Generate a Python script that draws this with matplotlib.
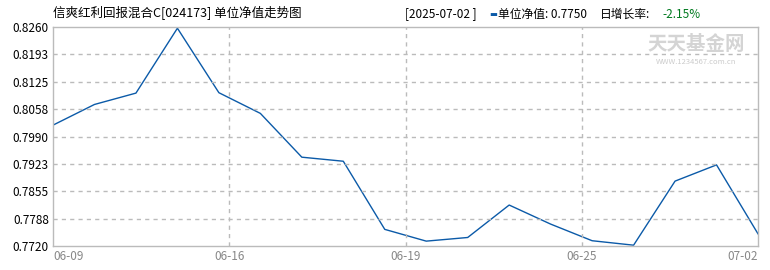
import matplotlib
matplotlib.use("Agg")
import matplotlib.pyplot as plt

plt.rcParams['font.family'] = ['Noto Sans CJK SC', 'DejaVu Sans']

# 交易日与单位净值
dates = ['06-09', '06-10', '06-11', '06-12', '06-13', '06-16', '06-17', '06-18',
         '06-19', '06-20', '06-23', '06-24', '06-25', '06-26', '06-27', '06-30',
         '07-01', '07-02']
nav = [0.8018, 0.8069, 0.8097, 0.8257, 0.8098, 0.8047, 0.7939, 0.7929,
       0.7761, 0.7732, 0.7741, 0.7821, 0.7774, 0.7733, 0.7722, 0.7880,
       0.7920, 0.7750]

x_ticks = [0, 4.25, 8.5, 12.75, 17]
x_labels = ['06-09', '06-16', '06-19', '06-25', '07-02']
y_min, y_max = 0.7720, 0.8260
y_ticks = [y_min + i * (y_max - y_min) / 8 for i in range(9)]

title = '信爽红利回报混合C[024173] 单位净值走势图'
last_date = '2025-07-02'
daily_change = '-2.15%'

W, H = 770, 270
fig = plt.figure(figsize=(W / 100, H / 100), dpi=100)
ax = fig.add_axes([53 / W, (H - 246) / H, (758 - 53) / W, (246 - 27) / H])

ax.plot(range(len(nav)), nav, color='#0b5aa8', lw=1.0)

ax.set_xlim(0, len(nav) - 1)
ax.set_ylim(y_min, y_max)
ax.set_yticks(y_ticks)
# 四舍五入(0.5进位)
ax.set_yticklabels(['%.4f' % (v + 1e-9) for v in y_ticks], fontsize=8.5, color='black')
ax.set_xticks(x_ticks)
ax.set_xticklabels(x_labels, fontsize=8.5, color='#888888')
labels = ax.get_xticklabels()
labels[0].set_ha('left')
labels[-1].set_ha('right')
ax.tick_params(length=0, pad=3)

# 网格线只画在内部刻度
for v in y_ticks[1:-1]:
    ax.axhline(v, color='#bbbbbb', ls=(0, (3, 3)), lw=1.0)
for v in x_ticks[1:-1]:
    ax.axvline(v, color='#bbbbbb', ls=(0, (3, 3)), lw=1.0)

for s in ax.spines.values():
    s.set_color('#bbbbbb')
    s.set_linewidth(1.0)

def px(x, y):
    return x / W, 1 - y / H

fig.text(*px(53, 13), title, fontsize=9, va='center', ha='left')
fig.text(*px(405, 14), '[%s ]' % last_date, fontsize=8.5, va='center', ha='left')
fig.text(*px(489, 14), '▬', fontsize=6, color='#0b5aa8', va='center', ha='left',
         family=['DejaVu Sans'])
fig.text(*px(498, 14), '单位净值: %.4f' % nav[-1], fontsize=8.5, va='center', ha='left')
fig.text(*px(600, 14), '日增长率:', fontsize=8.5, va='center', ha='left')
fig.text(*px(662, 14), daily_change, fontsize=8.5, color='#007a1f', va='center', ha='left')

# 水印
fig.text(*px(696, 44), '天天基金网', fontsize=14, color='#d4d4d4', va='center',
         ha='center', fontweight='bold')
fig.text(*px(696, 62), 'WWW.1234567.com.cn', fontsize=5.5, color='#cccccc',
         va='center', ha='center')

fig.savefig('out.png', dpi=100)
